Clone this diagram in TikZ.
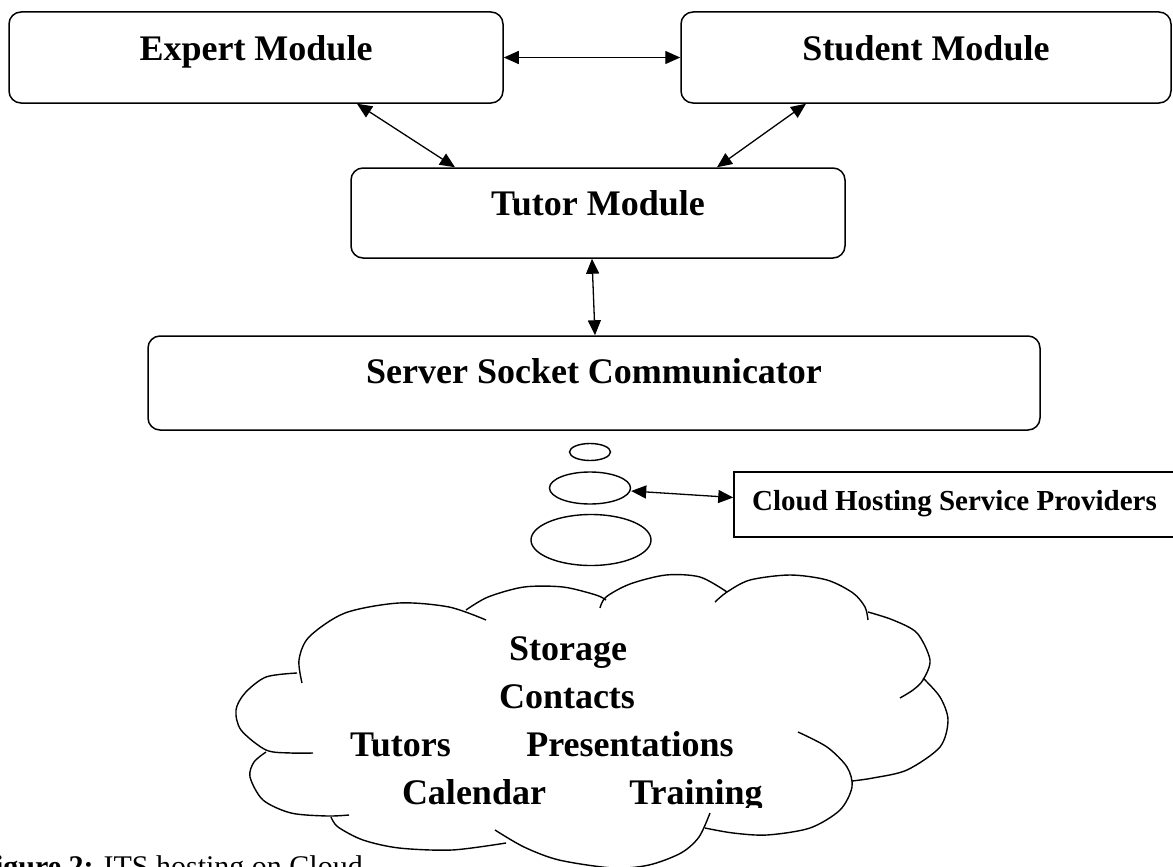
\documentclass[tikz,border=0pt]{standalone}
\usepackage{fontspec}
\setmainfont{Liberation Serif}
\usetikzlibrary{shapes.geometric,arrows.meta}

\begin{document}
\begin{tikzpicture}[x=1pt,y=-1pt]
	\tikzset{
	  module/.style={draw, line width=1.5pt, rounded corners=12pt, inner sep=0pt, font=\bfseries\fontsize{36}{40}\selectfont, text height=28pt},
	  bubble/.style={draw, ellipse, line width=1.4pt, inner sep=0pt},
	  link/.style={{Triangle[length=15pt,width=13pt]}-{Triangle[length=15pt,width=13pt]}, line width=1.3pt},
	  item/.style={anchor=base, inner sep=0pt, font=\bfseries\fontsize{36}{40}\selectfont}
	}
	\useasboundingbox (0,0) rectangle (1173,867);

	%---NODES---
	\node[module, minimum width=494pt, minimum height=91pt, text depth=23pt] (expert) at (256,57.5) {Expert Module};
	\node[module, minimum width=490pt, minimum height=91pt, text depth=23pt] (student) at (926,57.5) {Student Module};
	\node[module, minimum width=494pt, minimum height=90pt, text depth=24pt] (tutor) at (598,213) {Tutor Module};
	\node[module, minimum width=892pt, minimum height=94pt, text depth=28pt] (server) at (594,383) {Server Socket Communicator};

	\node[bubble, minimum width=41pt, minimum height=17pt] (bub1) at (590,452) {};
	\node[bubble, minimum width=81pt, minimum height=32pt] (bub2) at (590,488) {};
	\node[bubble, minimum width=120pt, minimum height=51pt] (bub3) at (591,540) {};

	\node[draw, line width=1.5pt, inner sep=0pt, minimum width=441pt, minimum height=65pt, text height=22pt, text depth=11pt, font=\bfseries\fontsize{29}{32}\selectfont] (hosting) at (954.5,504.5) {Cloud Hosting Service Providers};

	%---CLOUD---
	\begin{scope}[line width=1.4pt]
	\draw plot[smooth] coordinates {(302,683) (299,660) (309,637) (345,613) (399,603) (449,607) (486,620)};
	\draw plot[smooth] coordinates {(466,610) (488,597) (524,587) (563,587) (596,595) (606,600)};
	\draw plot[smooth] coordinates {(600,608) (606,597) (630,584) (666,575) (700,577) (727,592)};
	\draw plot[smooth] coordinates {(715,602) (727,592) (750,580) (790,575) (827,580) (853,593) (865,607) (868,620)};
	\draw plot[smooth] coordinates {(868,612) (893,620) (917,633) (930,660) (923,680) (913,690) (900,698)};
	\draw plot[smooth] coordinates {(923,678) (940,697) (948,720) (940,747) (907,770) (873,778) (852,781)};
	\draw plot[smooth] coordinates {(798,732) (827,747) (847,767) (852,787) (840,810) (810,828) (767,835) (733,833) (705,828)};
	\draw plot[smooth] coordinates {(710,813) (699,837) (681,853) (649,865) (613,868) (559,860) (524,847) (495,830)};
	\draw plot[smooth] coordinates {(331,817) (338,827) (363,840) (399,848) (452,850) (506,843)};
	\draw plot[smooth] coordinates {(266,752) (254,762) (250,777) (263,800) (291,813) (327,816) (349,815)};
	\draw plot[smooth] coordinates {(297,673) (266,677) (245,693) (236,710) (241,730) (266,750) (291,753) (313,753)};
	\end{scope}

	\node[item] (storage) at (568,660) {Storage};
	\node[item] (contacts) at (567,708) {Contacts};
	\node[item] (tutors) at (400.5,756) {Tutors};
	\node[item] (present) at (630,756) {Presentations};
	\begin{scope}
	\clip (300,760) rectangle (800,807);
	\node[item] (calendar) at (474,804) {Calendar};
	\node[item] (training) at (696,804) {Training};
	\end{scope}

	%---EDGES---
	\draw[link] (expert.east) -- (student.west);
	\draw[link] ([xshift=101pt]expert.south) -- ([xshift=-143pt]tutor.north);
	\draw[link] ([xshift=-120pt]student.south) -- ([xshift=119pt]tutor.north);
	\draw[link] ([xshift=-6pt]tutor.south) -- ([xshift=1pt]server.north);
	\draw[link] ([yshift=-3pt]bub2.east) -- ([yshift=7pt]hosting.west);

	%---LABELS---
	\node[anchor=base west, inner sep=0pt, font=\fontsize{30}{34}\selectfont] (caption) at (-23.5,876) {\textbf{Figure 2:} ITS hosting on Cloud};

\end{tikzpicture}
\end{document}
